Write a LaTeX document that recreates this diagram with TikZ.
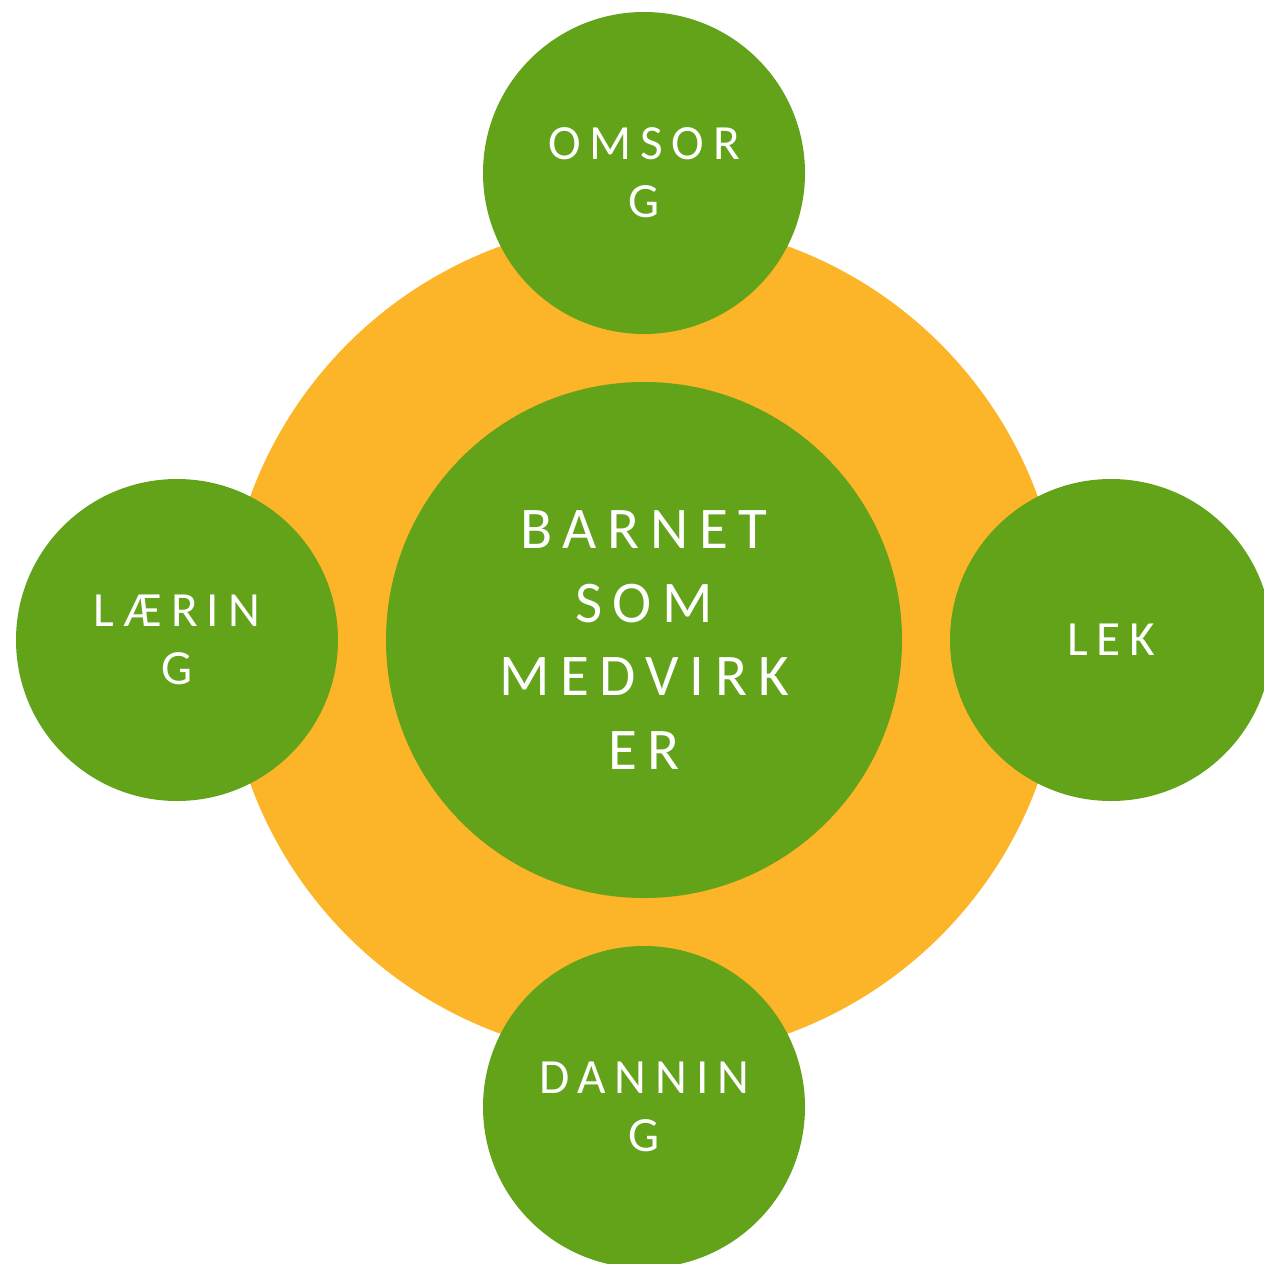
\documentclass[tikz,border=0pt]{standalone}
\usepackage{fontspec}
\setmainfont{Carlito}
\newfontfamily\spaced[LetterSpace=18]{Carlito}
\usepackage{tikz}
\usetikzlibrary{positioning}
\definecolor{leaf}{RGB}{98,163,26}
\definecolor{sun}{RGB}{252,180,40}
\tikzset{
node distance=4.67cm,
ring/.style={circle, fill=sun, minimum size=8.38cm, inner sep=0pt},
hub/.style={circle, fill=leaf, minimum size=5.16cm, inner sep=0pt,
  align=center, text=white, font=\spaced\fontsize{16.8}{20.9}\selectfont},
petal/.style={circle, fill=leaf, minimum size=3.22cm, inner sep=0pt,
  align=center, text=white, font=\spaced\fontsize{14}{16.5}\selectfont}
}

\begin{document}
\begin{tikzpicture}
\useasboundingbox (0,0) rectangle (12.64,12.63);
\node[ring] (ring) at (6.44,6.23) {};
\node[hub] (mid) at (ring.center) {BARNET\\SOM\\MEDVIRK\\ER};
\node[petal,above of=mid] (omsorg) {OMSOR\\G};
\node[petal,left of=mid] (laering) {LÆRIN\\G};
\node[petal,right of=mid] (lek) {LEK};
\node[petal,below of=mid] (danning) {DANNIN\\G};
\end{tikzpicture}
\end{document}
